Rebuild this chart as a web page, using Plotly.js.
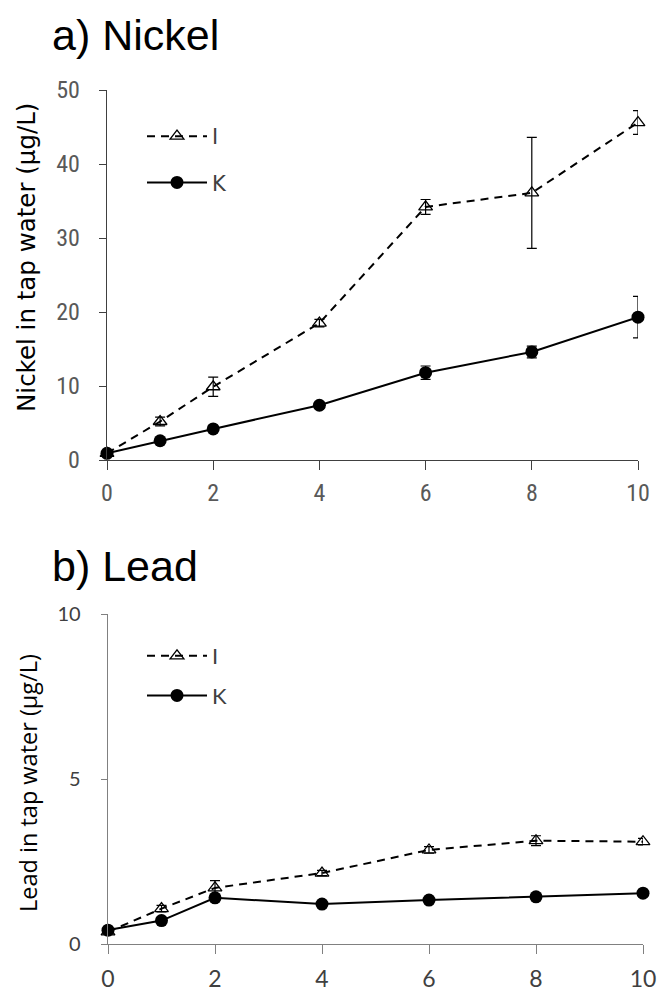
<!DOCTYPE html>
<html>
<head>
<meta charset="utf-8">
<script src="https://cdn.plot.ly/plotly-3.0.1.min.js"></script>
<style>html,body{margin:0;padding:0;background:#fff;}#chart{width:661px;height:991px;}</style>
</head>
<body>
<div id="chart"></div>
<script>
// ---- data ----
var days = [0, 1, 2, 4, 6, 8, 10];
var xTicks = [0, 2, 4, 6, 8, 10];

var nickelI = [0.9, 5.2, 9.9, 18.5, 34.2, 36.1, 45.6];
var nickelIErr = [0.2, 0.6, 1.3, 0.5, 1.0, 7.5, 1.6];
var nickelK = [0.9, 2.6, 4.2, 7.4, 11.8, 14.6, 19.3];
var nickelKErr = [0.2, 0.3, 0.3, 0.4, 0.9, 0.8, 2.8];

var leadI = [0.37, 1.07, 1.7, 2.15, 2.85, 3.13, 3.1];
var leadIErr = [0.05, 0.1, 0.22, 0.08, 0.1, 0.15, 0.1];
var leadK = [0.42, 0.71, 1.4, 1.21, 1.33, 1.43, 1.54];
var leadKErr = [0.05, 0.05, 0.05, 0.05, 0.05, 0.05, 0.05];

var seriesNames = ['I', 'K'];
var titles = ['a) Nickel', 'b) Lead'];
var yTitles = ['Nickel in tap water (μg/L)', 'Lead in tap water (μg/L)'];
var nickelTicks = [0, 10, 20, 30, 40, 50];
var leadTicks = [0, 5, 10];

// ---- styles ----
var W = 661, H = 991;
function px(x){ return x / W; }
function py(y){ return 1 - y / H; }

var fTick = "'Roboto Condensed', sans-serif";
var fTop = "'DejaVu Sans', sans-serif";
var fBot = "Lato, sans-serif";
var fBotTitle = "'Open Sans', sans-serif";
var fHead = "'Liberation Sans', Arial, sans-serif";

function traceI(x, y, e, xa, ya, lg, grp) {
  return {x: x, y: y, xaxis: xa, yaxis: ya, legend: lg, legendgroup: grp, name: seriesNames[0],
    type: 'scatter', mode: 'lines+markers', cliponaxis: false,
    line: {color: '#000', width: 2, dash: '8px,6px'},
    marker: {symbol: 'triangle-up-open', size: 12, color: '#000', line: {color: '#000', width: 1.3}},
    error_y: {type: 'data', array: e, visible: true, color: '#000', thickness: 1.2, width: 5}};
}
function traceK(x, y, e, xa, ya, lg, grp) {
  return {x: x, y: y, xaxis: xa, yaxis: ya, legend: lg, legendgroup: grp, name: seriesNames[1],
    type: 'scatter', mode: 'lines+markers', cliponaxis: false,
    line: {color: '#000', width: 2},
    marker: {symbol: 'circle', size: 13, color: '#000'},
    error_y: {type: 'data', array: e, visible: true, color: '#000', thickness: 1.2, width: 5}};
}

var data = [
  traceI(days, nickelI, nickelIErr, 'x', 'y', 'legend', 'nI'),
  traceK(days, nickelK, nickelKErr, 'x', 'y', 'legend', 'nK'),
  traceI(days, leadI, leadIErr, 'x2', 'y2', 'legend2', 'lI'),
  traceK(days, leadK, leadKErr, 'x2', 'y2', 'legend2', 'lK')
];

var layout = {
  width: W, height: H,
  margin: {l: 0, r: 0, t: 0, b: 0},
  paper_bgcolor: '#fff', plot_bgcolor: '#fff',
  showlegend: true,
  xaxis: {domain: [px(107), px(638)], range: [0, 10], tickvals: xTicks, ticks: 'outside', ticklen: 9,
    tickcolor: '#404040', showline: true, linecolor: '#404040', linewidth: 1.3, showgrid: false, zeroline: false,
    tickfont: {family: fTick, size: 24, color: '#595959'}, ticklabelstandoff: 2, fixedrange: true, anchor: 'y'},
  yaxis: {domain: [py(460), py(90)], range: [0, 50], tickvals: nickelTicks, ticks: 'outside', ticklen: 7,
    tickcolor: '#404040', showline: true, linecolor: '#404040', linewidth: 1.3, showgrid: false, zeroline: false,
    tickfont: {family: fTick, size: 24, color: '#595959'}, ticklabelstandoff: 14, fixedrange: true, anchor: 'x'},
  xaxis2: {domain: [px(108), px(643)], range: [0, 10], tickvals: xTicks, ticks: 'outside', ticklen: 9,
    tickcolor: '#808080', showline: true, linecolor: '#808080', linewidth: 1.3, showgrid: false, zeroline: false,
    tickfont: {family: fBot, size: 23, color: '#404040'}, ticklabelstandoff: 5, fixedrange: true, anchor: 'y2'},
  yaxis2: {domain: [py(944), py(614)], range: [0, 10], tickvals: leadTicks, ticks: 'outside', ticklen: 6,
    tickcolor: '#808080', showline: true, linecolor: '#808080', linewidth: 1.3, showgrid: false, zeroline: false,
    tickfont: {family: fBot, size: 20, color: '#404040'}, ticklabelstandoff: 16, fixedrange: true, anchor: 'x2'},
  legend: {x: px(142), y: py(116), xanchor: 'left', yanchor: 'top', bgcolor: 'rgba(0,0,0,0)',
    font: {family: fTop, size: 21, color: '#404040'}, itemwidth: 60, tracegroupgap: 16},
  legend2: {x: px(142), y: py(635), xanchor: 'left', yanchor: 'top', bgcolor: 'rgba(0,0,0,0)',
    font: {family: fBot, size: 22, color: '#404040'}, itemwidth: 60, tracegroupgap: 8},
  annotations: [
    {text: titles[0], xref: 'paper', yref: 'paper', x: px(50), y: py(61), xanchor: 'left', yanchor: 'bottom',
      showarrow: false, font: {family: fHead, size: 43, color: '#000'}},
    {text: titles[1], xref: 'paper', yref: 'paper', x: px(50), y: py(592), xanchor: 'left', yanchor: 'bottom',
      showarrow: false, font: {family: fHead, size: 43, color: '#000'}},
    {text: yTitles[0], xref: 'paper', yref: 'paper', x: px(27), y: py(258), xanchor: 'center', yanchor: 'middle',
      textangle: -90, showarrow: false, font: {family: fTop, size: 24.5, color: '#000'}},
    {text: yTitles[1], xref: 'paper', yref: 'paper', x: px(28), y: py(783), xanchor: 'center', yanchor: 'middle',
      textangle: -90, showarrow: false, font: {family: fBotTitle, size: 23.5, color: '#000'}}
  ]
};

Plotly.newPlot('chart', data, layout, {displayModeBar: false, staticPlot: true});
</script>
</body>
</html>
